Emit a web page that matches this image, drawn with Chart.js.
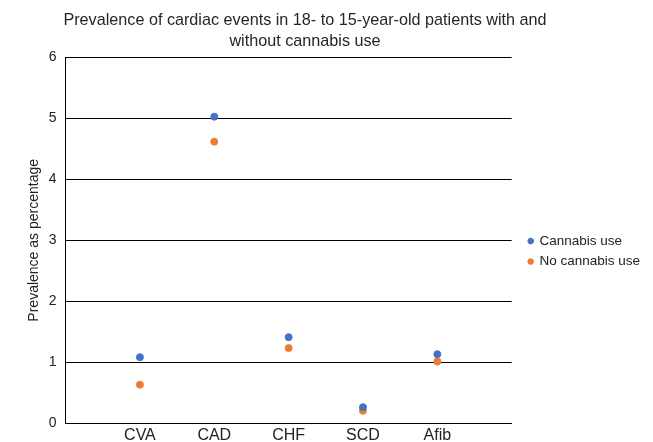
<!DOCTYPE html>
<html>
<head>
<meta charset="utf-8">
<script src="https://cdn.jsdelivr.net/npm/chart.js@4.4.0/dist/chart.umd.min.js"></script>
<style>
  html, body { margin: 0; padding: 0; background: #fff; }
  #wrap { width: 653px; height: 442px; }
</style>
</head>
<body>
<div id="wrap"><canvas id="chart-area" width="653" height="442"></canvas></div>
<script>
var categories = ['CVA', 'CAD', 'CHF', 'SCD', 'Afib'];
var cannabisUse = [1.08, 5.03, 1.41, 0.26, 1.13];
var noCannabisUse = [0.63, 4.62, 1.23, 0.20, 1.01];
var yTicks = [0, 1, 2, 3, 4, 5, 6];

function toPoints(vals) {
  return vals.map(function (v, i) { return { x: i + 1, y: v }; });
}

// title sits a bit right of the plot centre, legend a bit away from the plot, like the original
var boxShift = {
  id: 'boxShift',
  afterLayout: function (chart) {
    var t = chart.titleBlock;
    t.left = 0;
    t.right = chart.width - 43;
    var lg = chart.legend;
    lg.left += 10;
    lg.right += 10;
  }
};

var config = {
  type: 'scatter',
  data: {
    datasets: [{
      label: 'Cannabis use',
      data: toPoints(cannabisUse),
      backgroundColor: '#4472C4',
      borderColor: '#4472C4',
      pointRadius: 3.5,
      pointHoverRadius: 3.5
    }, {
      label: 'No cannabis use',
      data: toPoints(noCannabisUse),
      backgroundColor: '#ED7D31',
      borderColor: '#ED7D31',
      pointRadius: 3.5,
      pointHoverRadius: 3.5
    }]
  },
  options: {
    responsive: false,
    animation: false,
    layout: { padding: { left: 22, right: 13, top: 4, bottom: 0 } },
    plugins: {
      title: {
        display: true,
        fullSize: false,
        text: ['Prevalence of cardiac events in 18- to 15-year-old patients with and', 'without cannabis use'],
        color: '#262626',
        font: { family: 'Liberation Sans', size: 16.2, weight: 'normal', lineHeight: 1.3 },
        padding: { top: 6, bottom: 5.5 }
      },
      legend: {
        position: 'right',
        fullSize: false,
        title: { display: true, text: '', font: { size: 8, lineHeight: 1 }, padding: { top: 7, bottom: 7 } },
        labels: {
          usePointStyle: true,
          pointStyle: 'circle',
          boxWidth: 4,
          boxHeight: 4,
          color: '#222',
          font: { family: 'Liberation Sans', size: 13.5 },
          padding: 7
        }
      },
      tooltip: { enabled: false }
    },
    scales: {
      x: {
        type: 'linear',
        min: 0,
        max: 6,
        afterBuildTicks: function (axis) {
          axis.ticks = categories.map(function (c, i) { return { value: i + 1 }; });
        },
        afterFit: function (axis) {
          axis.height = 19; // labels run off the bottom edge in the original
        },
        ticks: {
          autoSkip: false,
          maxRotation: 0,
          padding: 6,
          color: '#222',
          font: { family: 'Liberation Sans', size: 16, lineHeight: 0.8 },
          callback: function (v) { return categories[v - 1] || ''; }
        },
        grid: { display: false, drawTicks: false },
        border: { display: true, color: '#000', width: 1 }
      },
      y: {
        min: 0,
        max: 6,
        afterBuildTicks: function (axis) {
          axis.ticks = yTicks.map(function (v) { return { value: v }; });
        },
        ticks: {
          padding: 9,
          color: '#222',
          font: { family: 'Liberation Sans', size: 14 }
        },
        grid: { color: '#000', lineWidth: 1, drawTicks: false },
        border: { display: true, color: '#000', width: 1 },
        title: {
          display: true,
          text: 'Prevalence as percentage',
          color: '#222',
          font: { family: 'Liberation Sans', size: 14 },
          padding: { top: 4, bottom: -3 }
        }
      }
    }
  },
  plugins: [boxShift]
};

var ctx = document.getElementById('chart-area').getContext('2d');
window.myScatter = new Chart(ctx, config);
</script>
</body>
</html>
